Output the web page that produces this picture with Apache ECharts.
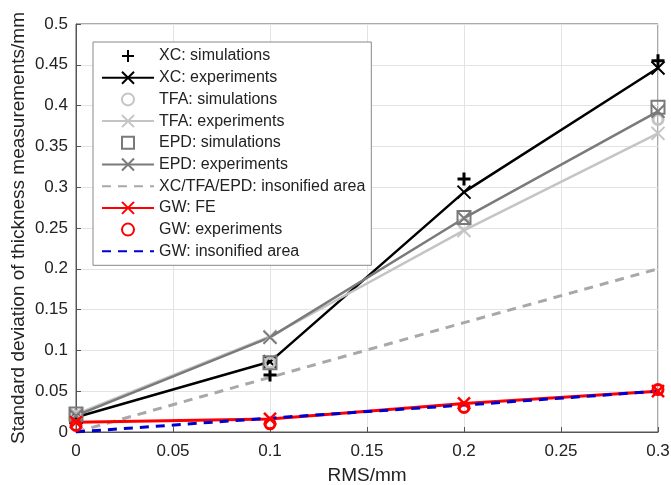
<!DOCTYPE html>
<html>
  <head>
    <meta charset="UTF-8" />
    <title>RMS vs thickness std</title>
    <style>
      html, body { margin: 0; padding: 0; background: #fff; }
      #chart { width: 671px; height: 485px; }
    </style>
    <script type="text/javascript" src="https://cdn.jsdelivr.net/npm/echarts@6/dist/echarts.min.js"></script>
  </head>
  <body>
    <div id="chart"></div>
    <script>
      // data
      var rms = [0, 0.1, 0.2, 0.3];
      var xcSim = [0.02, 0.07, 0.31, 0.455];
      var xcExp = [0.018, 0.086, 0.294, 0.446];
      var tfaSim = [0.02, 0.085, 0.255, 0.383];
      var tfaExp = [0.022, 0.117, 0.247, 0.366];
      var epdSim = [0.022, 0.085, 0.263, 0.398];
      var epdExp = [0.02, 0.116, 0.262, 0.393];
      var xcArea = [0, 0.067, 0.134, 0.2];
      var gwFe = [0.012, 0.016, 0.035, 0.05];
      var gwExp = [0.008, 0.01, 0.03, 0.052];
      var gwArea = [0, 0.017, 0.033, 0.05];

      var PLUS = "path://M0,-1L0,1M-1,0L1,0";
      var CROSS = "path://M-1,-1L1,1M-1,1L1,-1";

      function pts(ys) {
        return rms.map(function (x, i) { return [x, ys[i]]; });
      }

      function lineSeries(name, ys, color, opts) {
        opts = opts || {};
        return {
          name: name,
          type: "line",
          data: pts(ys),
          symbol: opts.symbol || "rect",
          symbolSize: opts.symbolSize || 12,
          showSymbol: !!opts.symbol,
          lineStyle: {
            color: color,
            width: opts.noLine ? 0 : (opts.width || 2.5),
            type: opts.dash ? [9, 7] : "solid",
            opacity: opts.noLine ? 0 : 1
          },
          itemStyle: {
            color: opts.fill || "transparent",
            // dashed lines have no marker, so keep the legend icon clean too
            borderColor: opts.symbol ? color : "transparent",
            borderWidth: opts.borderWidth || 2
          },
          emphasis: { disabled: true },
          animation: false
        };
      }

      var chart = echarts.init(document.getElementById("chart"));

      var option = {
        animation: false,
        textStyle: { fontFamily: "Liberation Sans, Arial, sans-serif" },
        grid: {
          left: 76, right: 13, top: 24, bottom: 53,
          outerBoundsMode: "none",
          containLabel: false,
          show: true,
          borderColor: "#555",
          borderWidth: 1,
          backgroundColor: "#fff"
        },
        legend: {
          orient: "vertical",
          left: 93,
          top: 42,
          itemWidth: 52,
          itemHeight: 15,
          itemGap: 5.7,
          padding: [6, 6, 6, 8],
          backgroundColor: "#fff",
          borderColor: "#888",
          borderWidth: 1,
          textStyle: { fontSize: 16, color: "#222" },
          data: [
            "XC: simulations", "XC: experiments", "TFA: simulations",
            "TFA: experiments", "EPD: simulations", "EPD: experiments",
            "XC/TFA/EPD: insonified area", "GW: FE", "GW: experiments",
            "GW: insonified area"
          ]
        },
        xAxis: {
          type: "value",
          min: 0, max: 0.3, interval: 0.05,
          name: "RMS/mm",
          nameLocation: "middle",
          nameGap: 34,
          nameMoveOverlap: false,
          nameTextStyle: { fontSize: 19, color: "#222" },
          axisLine: { lineStyle: { color: "#555" } },
          axisTick: { inside: true, length: 5, lineStyle: { color: "#555" } },
          axisLabel: { fontSize: 17, color: "#222", margin: 11 },
          splitLine: { show: true, lineStyle: { color: "#e3e3e3" } }
        },
        yAxis: {
          type: "value",
          min: 0, max: 0.5, interval: 0.05,
          name: "Standard deviation of thickness measurements/mm",
          nameLocation: "middle",
          nameGap: 48,
          nameMoveOverlap: false,
          nameTextStyle: { fontSize: 19, color: "#222" },
          axisLine: { lineStyle: { color: "#555" } },
          axisTick: { inside: true, length: 5, lineStyle: { color: "#555" } },
          axisLabel: { fontSize: 17, color: "#222", margin: 8 },
          splitLine: { show: true, lineStyle: { color: "#e3e3e3" } }
        },
        series: [
          lineSeries("XC: simulations", xcSim, "#000", { symbol: PLUS, noLine: true, symbolSize: 13, borderWidth: 3 }),
          lineSeries("XC: experiments", xcExp, "#000", { symbol: CROSS, symbolSize: 13 }),
          lineSeries("TFA: simulations", tfaSim, "#c4c4c4", { symbol: "circle", noLine: true, symbolSize: 10, borderWidth: 3 }),
          lineSeries("TFA: experiments", tfaExp, "#c4c4c4", { symbol: CROSS, symbolSize: 13 }),
          lineSeries("EPD: simulations", epdSim, "#7a7a7a", { symbol: "rect", noLine: true, symbolSize: 13, borderWidth: 2 }),
          lineSeries("EPD: experiments", epdExp, "#7a7a7a", { symbol: CROSS, symbolSize: 13 }),
          lineSeries("XC/TFA/EPD: insonified area", xcArea, "#a8a8a8", { dash: true, width: 3 }),
          lineSeries("GW: FE", gwFe, "#ff0000", { symbol: CROSS, symbolSize: 12, width: 3, borderWidth: 2.5 }),
          lineSeries("GW: experiments", gwExp, "#ff0000", { symbol: "circle", noLine: true, symbolSize: 10, borderWidth: 3 }),
          lineSeries("GW: insonified area", gwArea, "#0000cc", { dash: true, width: 3 })
        ]
      };

      chart.setOption(option);
    </script>
  </body>
</html>
